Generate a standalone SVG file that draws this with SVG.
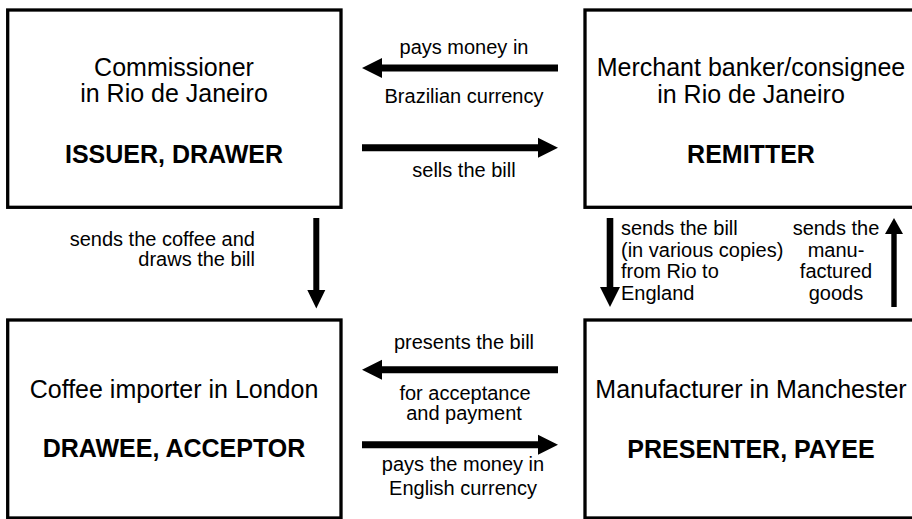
<svg xmlns="http://www.w3.org/2000/svg" width="912" height="519" viewBox="0 0 912 519">
<style>
.box{fill:#fff;stroke:#000;stroke-width:3.3}
.t{font-family:"Liberation Sans",Arial,Helvetica,sans-serif;font-size:25px;fill:#000;text-anchor:middle}
.b{font-weight:bold}
.l{font-family:"Liberation Sans",Arial,Helvetica,sans-serif;font-size:20px;fill:#000}
.m{text-anchor:middle}
.e{text-anchor:end}
.ar{fill:#000;stroke:none}
</style>
<rect width="912" height="519" fill="#fff"/>
<g id="commissioner">
<rect class="box" x="7.7" y="10" width="333.3" height="197.3"/>
<text class="t" x="174" y="76">Commissioner</text>
<text class="t" x="174" y="102">in Rio de Janeiro</text>
<text class="t b" x="174" y="163">ISSUER, DRAWER</text>
</g>
<g id="merchant">
<rect class="box" x="585" y="10" width="333" height="197.3"/>
<text class="t" x="751" y="76">Merchant banker/consignee</text>
<text class="t" x="751" y="102.5">in Rio de Janeiro</text>
<text class="t b" x="751" y="163">REMITTER</text>
</g>
<g id="importer">
<rect class="box" x="7.7" y="320" width="333.3" height="198"/>
<text class="t" x="174" y="398">Coffee importer in London</text>
<text class="t b" x="174" y="457">DRAWEE, ACCEPTOR</text>
</g>
<g id="manufacturer">
<rect class="box" x="585" y="320" width="333" height="198"/>
<text class="t" x="751" y="398">Manufacturer in Manchester</text>
<text class="t b" x="751" y="458">PRESENTER, PAYEE</text>
</g>
<g id="connectors">
<path class="ar" d="M558 64.5 H382 V58 L362 68 L382 78 V71.5 H558 Z"/>
<path class="ar" d="M362 144.2 H538 V137.7 L558 147.7 L538 157.7 V151.2 H362 Z"/>
<path class="ar" d="M558 366.2 H382 V359.7 L362 369.7 L382 379.7 V373.2 H558 Z"/>
<path class="ar" d="M362 441.2 H538 V434.7 L558 444.7 L538 454.7 V448.2 H362 Z"/>
<path class="ar" d="M313.3 218 V290 H307.3 L316.3 308.5 L325.3 290 H319.3 V218 Z"/>
<path class="ar" d="M606.7 218 V287 H600 L610 307 L620 287 H613.3 V218 Z"/>
<path class="ar" d="M891.3 307 V234 H885 L894 218 L903 234 H896.7 V307 Z"/>
<text class="l m" x="464" y="54">pays money in</text>
<text class="l m" x="464" y="103">Brazilian currency</text>
<text class="l m" x="464" y="177">sells the bill</text>
<text class="l m" x="464" y="349">presents the bill</text>
<text class="l m" x="465" y="400">for acceptance</text>
<text class="l m" x="464" y="420">and payment</text>
<text class="l m" x="463" y="471">pays the money in</text>
<text class="l m" x="463" y="495">English currency</text>
<text class="l e" x="255" y="246">sends the coffee and</text>
<text class="l e" x="255" y="266">draws the bill</text>
<text class="l" x="621" y="235">sends the bill</text>
<text class="l" x="621" y="256.5">(in various copies)</text>
<text class="l" x="621" y="278">from Rio to</text>
<text class="l" x="621" y="299.5">England</text>
<text class="l m" x="836" y="235">sends the</text>
<text class="l m" x="836" y="256.5">manu-</text>
<text class="l m" x="836" y="278">factured</text>
<text class="l m" x="836" y="299.5">goods</text>
</g>
</svg>
